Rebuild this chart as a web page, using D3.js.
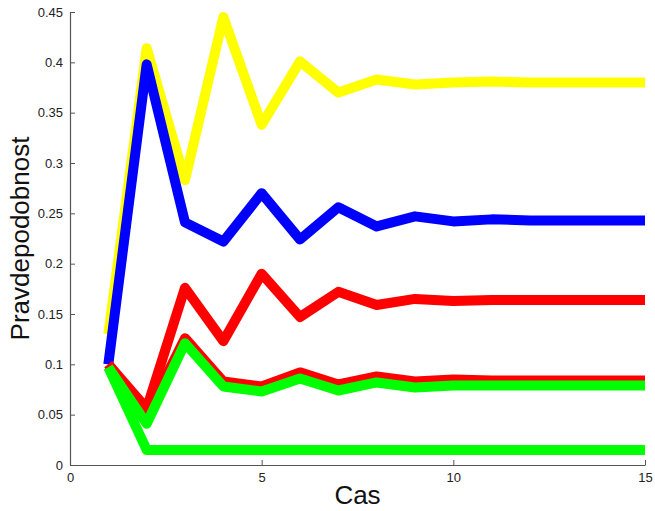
<!DOCTYPE html>
<html><head><meta charset="utf-8">
<script src="https://cdn.jsdelivr.net/npm/d3@7"></script>
<style>body{margin:0;background:#fff}svg{display:block}text{font-family:"Liberation Sans",Arial,sans-serif}</style>
</head><body>
<svg id="c" width="655" height="511"></svg>
<script>
const steps = [1,2,3,4,5,6,7,8,9,10,11,12,13,14,15];
const yellowVals   = [0.130,0.414,0.283,0.445,0.338,0.401,0.370,0.383,0.378,0.380,0.381,0.380,0.380,0.380,0.380];
const blueVals     = [0.100,0.398,0.241,0.222,0.270,0.224,0.256,0.237,0.247,0.242,0.244,0.243,0.243,0.243,0.243];
const redUpperVals = [0.100,0.056,0.176,0.123,0.190,0.147,0.172,0.159,0.165,0.163,0.164,0.164,0.164,0.164,0.164];
const redLowerVals = [0.100,0.050,0.126,0.083,0.078,0.092,0.080,0.088,0.083,0.085,0.084,0.084,0.084,0.084,0.084];
const greenUpperVals = [0.097,0.041,0.121,0.078,0.073,0.086,0.074,0.082,0.077,0.079,0.079,0.079,0.079,0.079,0.079];
const greenLowerVals = [0.097,0.015,0.015,0.015,0.015,0.015,0.015,0.015,0.015,0.015,0.015,0.015,0.015,0.015,0.015];
const xTicks = [0,5,10,15];
const yTicks = [0,0.05,0.1,0.15,0.2,0.25,0.3,0.35,0.4,0.45];
const xLabel = "Cas";
const yLabel = "Pravdepodobnost";

const series = [
  {vals: yellowVals, color: "#ffff00"},
  {vals: blueVals, color: "#0000ff"},
  {vals: redUpperVals, color: "#ff0000"},
  {vals: redLowerVals, color: "#ff0000"},
  {vals: greenUpperVals, color: "#00ff00"},
  {vals: greenLowerVals, color: "#00ff00"}
];

const svg = d3.select("#c");
const L = 70, R = 645, T = 12, B = 465;
const x = d3.scaleLinear().domain([0,15]).range([L,R]);
const y = d3.scaleLinear().domain([0,0.45]).range([B,T]);

const line = d3.line().x((d,i)=>x(steps[i])).y(d=>y(d));
svg.append("g").selectAll("path").data(series).join("path")
  .attr("d", d=>line(d.vals))
  .attr("fill","none").attr("stroke", d=>d.color)
  .attr("stroke-width",10).attr("stroke-linejoin","round")
  .attr("stroke-linecap","butt");

const fmt = v => String(+v.toFixed(2));
const xa = svg.append("g").attr("transform",`translate(0,${B})`)
  .call(d3.axisBottom(x).tickValues(xTicks).tickSize(-5).tickSizeOuter(0).tickPadding(8).tickFormat(fmt));
const ya = svg.append("g").attr("transform",`translate(${L},0)`)
  .call(d3.axisLeft(y).tickValues(yTicks).tickSize(-5).tickSizeOuter(0).tickPadding(7).tickFormat(fmt));
[xa,ya].forEach(a=>{
  a.select(".domain").attr("stroke","#555").attr("stroke-width",1.2);
  a.selectAll(".tick line").attr("stroke","#555");
  a.selectAll(".tick text").attr("fill","#222").style("font-size","13px").style("font-family","'Liberation Sans',Arial,sans-serif");
});

svg.append("text").attr("x",(L+R)/2).attr("y",504).attr("text-anchor","middle")
  .style("font-size","26px").attr("fill","#111").text(xLabel);
svg.append("text").attr("transform",`translate(29,${(T+B)/2}) rotate(-90)`).attr("text-anchor","middle")
  .style("font-size","26px").attr("fill","#111").text(yLabel);
</script>
</body></html>
